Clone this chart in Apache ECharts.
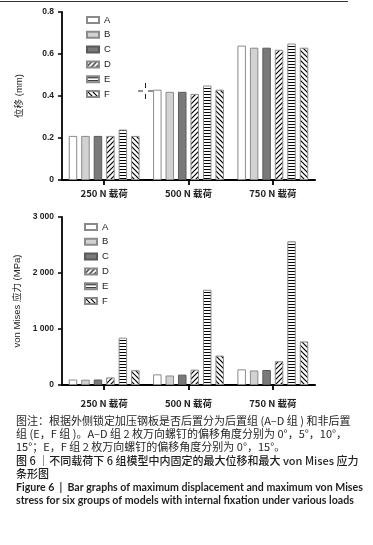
<!DOCTYPE html>
<html><head><meta charset="utf-8">
<script src="https://cdn.jsdelivr.net/npm/echarts@6/dist/echarts.min.js"></script>
<style>html,body{margin:0;padding:0;background:#fff}#c{width:373px;height:545px}</style>
</head><body><div id="c"></div>
<script>
// ---- data ----
const categories = ['250 N 载荷', '500 N 载荷', '750 N 载荷'];
const groupNames = ['A', 'B', 'C', 'D', 'E', 'F'];
// displacement (mm)
const dispA = [0.21, 0.43, 0.64];
const dispB = [0.21, 0.42, 0.63];
const dispC = [0.21, 0.42, 0.63];
const dispD = [0.21, 0.41, 0.62];
const dispE = [0.24, 0.45, 0.65];
const dispF = [0.21, 0.43, 0.63];
// von Mises stress (MPa)
const stressA = [98, 190, 280];
const stressB = [95, 170, 260];
const stressC = [98, 185, 268];
const stressD = [135, 275, 425];
const stressE = [845, 1700, 2565];
const stressF = [265, 525, 778];
const dispTicks = [0, 0.2, 0.4, 0.6, 0.8];
const stressTicks = [0, 1000, 2000, 3000];
const captionLines = [
  '图注：根据外侧锁定加压钢板是否后置分为后置组 (A–D 组 ) 和非后置',
  '组 (E，F 组 )。A–D 组 2 枚万向螺钉的偏移角度分别为 0°，5°，10°，',
  '15°；E，F 组 2 枚万向螺钉的偏移角度分别为 0°，15°。',
  '图 6 ｜不同载荷下 6 组模型中内固定的最大位移和最大 von Mises 应力',
  '条形图',
  'Figure 6  |  Bar graphs of maximum displacement and maximum von Mises',
  'stress for six groups of models with internal fixation under various loads'
];

// ---- patterns ----
function makePattern(kind) {
  const c = document.createElement('canvas');
  const s = kind === 'horiz' ? 3 : 5;
  c.width = kind === 'horiz' ? 4 : s; c.height = s;
  const g = c.getContext('2d');
  g.fillStyle = '#fff'; g.fillRect(0, 0, c.width, c.height);
  g.strokeStyle = '#000'; g.fillStyle = '#000'; g.lineWidth = 1.2;
  if (kind === 'horiz') {
    g.fillRect(0, 1, 4, 1);
  } else if (kind === 'up') {
    g.beginPath();
    g.moveTo(0, s); g.lineTo(s, 0);
    g.moveTo(-1, 1); g.lineTo(1, -1);
    g.moveTo(s - 1, s + 1); g.lineTo(s + 1, s - 1);
    g.stroke();
  } else {
    g.beginPath();
    g.moveTo(0, 0); g.lineTo(s, s);
    g.moveTo(-1, s - 1); g.lineTo(1, s + 1);
    g.moveTo(s - 1, -1); g.lineTo(s + 1, 1);
    g.stroke();
  }
  return { image: c, repeat: 'repeat' };
}
const styles = [
  { color: '#ffffff', borderColor: '#8a8a8a' },
  { color: '#d2d2d2', borderColor: '#8a8a8a' },
  { color: '#7a7a7a', borderColor: '#5a5a5a' },
  { color: makePattern('up'), borderColor: '#8a8a8a' },
  { color: makePattern('horiz'), borderColor: '#8a8a8a' },
  { color: makePattern('down'), borderColor: '#8a8a8a' }
];

const FONT = '"Liberation Sans","Noto Sans CJK SC",sans-serif';
const CJK = '"Noto Sans CJK SC",sans-serif';
const dispSeries = [dispA, dispB, dispC, dispD, dispE, dispF];
const stressSeries = [stressA, stressB, stressC, stressD, stressE, stressF];

function mkSeries(arrs, idx) {
  return arrs.map((d, i) => ({
    name: groupNames[i], type: 'bar', xAxisIndex: idx, yAxisIndex: idx,
    data: d, barGap: '47%', barCategoryGap: '16%',
    itemStyle: { color: styles[i].color, borderColor: styles[i].borderColor, borderWidth: 1 },
    emphasis: { disabled: true }, animation: false
  }));
}
function xAxis(idx, margin) {
  return {
    type: 'category', gridIndex: idx, data: categories,
    axisLine: { show: true, lineStyle: { color: '#000', width: 2 } },
    axisTick: { show: true, alignWithLabel: true, length: 5, lineStyle: { color: '#000', width: 1.8 } },
    axisLabel: { fontSize: 9.5, fontWeight: 'bold', color: '#222', margin: margin, fontFamily: CJK }
  };
}
function yAxis(idx, name, max, interval, fmt, gap) {
  return {
    type: 'value', gridIndex: idx, min: 0, max: max, interval: interval,
    name: name, nameLocation: 'middle', nameGap: gap,
    nameTextStyle: { fontSize: 9.5, color: '#222', fontFamily: FONT },
    splitLine: { show: false },
    axisLine: { show: true, lineStyle: { color: '#000', width: 1.8 } },
    axisTick: { show: true, length: 4, lineStyle: { color: '#000', width: 1.5 } },
    axisLabel: { fontSize: 8.5, fontWeight: 'bold', color: '#222', margin: 8, fontFamily: FONT, formatter: fmt }
  };
}
function legend(left, top) {
  return {
    data: groupNames, orient: 'vertical', left: left, top: top,
    itemWidth: 12, itemHeight: 6, itemGap: 4.8, selectedMode: false,
    icon: 'rect',
    textStyle: { fontSize: 9.5, color: '#222', fontFamily: FONT, lineHeight: 10 }
  };
}

const graphics = [
  { type: 'line', shape: { x1: 0, y1: 1.5, x2: 348, y2: 1.5 }, style: { stroke: '#333', lineWidth: 1 } },
  { type: 'line', shape: { x1: 138, y1: 91, x2: 143, y2: 91 }, style: { stroke: '#222', lineWidth: 1 } },
  { type: 'line', shape: { x1: 148, y1: 91, x2: 153, y2: 91 }, style: { stroke: '#222', lineWidth: 1 } },
  { type: 'line', shape: { x1: 145.5, y1: 83, x2: 145.5, y2: 88 }, style: { stroke: '#222', lineWidth: 1 } },
  { type: 'line', shape: { x1: 145.5, y1: 94, x2: 145.5, y2: 99 }, style: { stroke: '#222', lineWidth: 1 } }
];
const capY = [420.7, 434, 447.3, 460.6, 473.9, 487.2, 500.5];
captionLines.forEach((t, i) => {
  const eng = i >= 5;
  const weight = i >= 5 ? 'bold ' : (i >= 3 ? '500 ' : '');
  graphics.push({
    type: 'text', x: 16, y: capY[i],
    style: {
      text: t, fill: '#1f1f1f', verticalAlign: 'middle', align: 'left',
      font: weight + (eng ? '10.6px Lato,sans-serif' : '11px "Noto Sans CJK SC",sans-serif')
    }
  });
});

const chart = echarts.init(document.getElementById('c'), null, { renderer: 'canvas', devicePixelRatio: 1 });
chart.setOption({
  animation: false,
  backgroundColor: '#fff',
  grid: [
    { left: 62, right: 58, top: 12, height: 168 },
    { left: 62, right: 58, top: 217, height: 168 }
  ],
  legend: [legend(81, 10), legend(79, 217)],
  xAxis: [xAxis(0, 9), xAxis(1, 14)],
  yAxis: [
    yAxis(0, '位移 (mm)', dispTicks[dispTicks.length - 1], dispTicks[1],
      v => v === 0 ? '0' : v.toFixed(1), 38),
    yAxis(1, 'von Mises 应力 (MPa)', stressTicks[stressTicks.length - 1], stressTicks[1],
      v => v === 0 ? '0' : String(v).replace(/\B(?=(\d{3})+(?!\d))/g, ' '), 37)
  ],
  series: mkSeries(dispSeries, 0).concat(mkSeries(stressSeries, 1)),
  graphic: graphics
});
</script></body></html>
